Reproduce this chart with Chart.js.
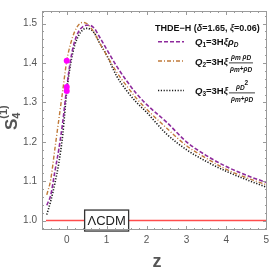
<!DOCTYPE html>
<html>
<head>
<meta charset="utf-8">
<script src="https://cdn.jsdelivr.net/npm/chart.js@4.4.0/dist/chart.umd.min.js"></script>
<style>
  html, body { margin: 0; padding: 0; background: #fff; }
  #wrap { width: 273px; height: 273px; position: relative; }
</style>
</head>
<body>
<div id="wrap"><canvas id="s4Chart" width="273" height="273"></canvas></div>
<script>
// redshift grid and the three S4 curves
const zValues = [-0.5, -0.4, -0.3, -0.2, -0.1, 0, 0.1, 0.2, 0.3, 0.4, 0.5, 0.6, 0.7, 0.8, 1.0, 1.25, 1.5, 1.75, 2, 2.5, 3, 3.5, 4, 4.5, 5];
const q1Values = [1.039, 1.065, 1.123, 1.18, 1.25, 1.337, 1.41, 1.455, 1.48, 1.492, 1.496, 1.495, 1.487, 1.47, 1.435, 1.392, 1.355, 1.322, 1.295, 1.25, 1.20, 1.165, 1.137, 1.115, 1.097];
const q2Values = [1.065, 1.105, 1.18, 1.255, 1.33, 1.405, 1.45, 1.48, 1.497, 1.503, 1.50, 1.49, 1.475, 1.455, 1.42, 1.377, 1.342, 1.31, 1.283, 1.235, 1.19, 1.158, 1.13, 1.109, 1.091];
const q3Values = [1.015, 1.05, 1.093, 1.145, 1.218, 1.328, 1.40, 1.445, 1.47, 1.484, 1.488, 1.485, 1.475, 1.455, 1.42, 1.367, 1.33, 1.30, 1.275, 1.22, 1.18, 1.15, 1.125, 1.104, 1.085];

// present-day points at z = 0
const todayZ = [0, 0, 0];
const todayS4 = [1.406, 1.339, 1.329];

// LCDM reference
const lcdmZ = [-0.52, 5];
const lcdmS4 = [1.0, 1.0];

const xTicks = [0, 1, 2, 3, 4, 5];
const yTicks = [1.0, 1.1, 1.2, 1.3, 1.4, 1.5];

const purple = '#8e2a9c';
const brown = '#c07a3a';
const dark = '#1a1a1a';
const frameGray = '#9a9a9a';
const labelGray = '#555';

function pts(xs, ys) {
    return xs.map((x, i) => ({ x: x, y: ys[i] }));
}

// draws a run of text pieces: [text, font, dy]
function drawRuns(ctx, x, y, runs) {
    runs.forEach(r => {
        ctx.font = r[1];
        ctx.fillText(r[0], x, y + (r[2] || 0));
        x += ctx.measureText(r[0]).width;
    });
    return x;
}

const framePlugin = {
    id: 'frame',
    afterDatasetsDraw(chart) {
        const ctx = chart.ctx;
        const xs = chart.scales.x, ys = chart.scales.y;
        // LCDM label box
        const cx = xs.getPixelForValue(1.0), cy = ys.getPixelForValue(1.0);
        ctx.save();
        ctx.fillStyle = '#fff';
        ctx.fillRect(cx - 22, cy - 10.5, 44, 21);
        ctx.strokeStyle = '#333';
        ctx.lineWidth = 1.3;
        ctx.strokeRect(cx - 22, cy - 10.5, 44, 21);
        ctx.fillStyle = '#222';
        ctx.font = '13px "Liberation Sans", Arial, sans-serif';
        ctx.textAlign = 'center';
        ctx.textBaseline = 'middle';
        ctx.fillText('\u039BCDM', cx, cy + 0.5);
        ctx.restore();
    },
    afterDraw(chart) {
        const ctx = chart.ctx;
        const a = chart.chartArea;
        const xs = chart.scales.x, ys = chart.scales.y;
        ctx.save();
        ctx.strokeStyle = frameGray;
        ctx.lineWidth = 1;
        ctx.strokeRect(a.left + 0.5, a.top + 0.5, a.right - a.left - 1, a.bottom - a.top - 1);

        // inward ticks on all four sides
        ctx.beginPath();
        for (let i = -3; i <= 25; i++) {
            const v = i * 0.2;
            const px = Math.round(xs.getPixelForValue(v)) + 0.5;
            if (px < a.left || px > a.right) continue;
            const len = (i % 5 === 0) ? 4 : 2;
            ctx.moveTo(px, a.bottom); ctx.lineTo(px, a.bottom - len);
            ctx.moveTo(px, a.top); ctx.lineTo(px, a.top + len);
        }
        for (let i = 49; i <= 76; i++) {
            const v = i * 0.02;
            const py = Math.round(ys.getPixelForValue(v)) + 0.5;
            if (py < a.top || py > a.bottom) continue;
            const len = (i % 5 === 0) ? 4 : 2;
            ctx.moveTo(a.left, py); ctx.lineTo(a.left + len, py);
            ctx.moveTo(a.right, py); ctx.lineTo(a.right - len, py);
        }
        ctx.stroke();

        // axis titles
        ctx.fillStyle = labelGray;
        ctx.textAlign = 'center';
        ctx.textBaseline = 'middle';
        ctx.font = 'bold 18px "Liberation Sans", Arial, sans-serif';
        ctx.fillText('z', 157, 262);
        ctx.save();
        ctx.translate(12, 112);
        ctx.rotate(-Math.PI / 2);
        ctx.textAlign = 'left';
        const sw = 30;
        let xx = drawRuns(ctx, -sw / 2 - 3, 0, [['S', 'bold 17px "Liberation Sans", Arial, sans-serif', 0]]);
        ctx.font = 'bold 11px "Liberation Sans", Arial, sans-serif';
        ctx.fillText('4', xx, 5);
        ctx.fillText('(1)', xx, -8);
        ctx.restore();

        // legend
        const f = '"Liberation Sans", Arial, sans-serif';
        ctx.fillStyle = '#111';
        ctx.textAlign = 'left';
        ctx.textBaseline = 'middle';
        drawRuns(ctx, 155, 29, [
            ['THDE\u2212H (', 'bold 9px ' + f], ['\u03B4', 'bold italic 9px ' + f],
            ['=1.65, ', 'bold 9px ' + f], ['\u03BE', 'bold italic 9px ' + f], ['=0.06)', 'bold 9px ' + f]
        ]);

        const samples = [
            { y: 41.7, color: purple, dash: [4, 2], w: 1.6 },
            { y: 61, color: brown, dash: [4, 2, 1, 2], w: 1.4 },
            { y: 90.5, color: dark, dash: [1.2, 1.6], w: 1.5 }
        ];
        samples.forEach(s => {
            ctx.beginPath();
            ctx.setLineDash(s.dash);
            ctx.strokeStyle = s.color;
            ctx.lineWidth = s.w;
            ctx.moveTo(158, s.y); ctx.lineTo(184, s.y);
            ctx.stroke();
        });
        ctx.setLineDash([]);

        const big = 'bold 9.5px ' + f, bigI = 'bold italic 9.5px ' + f;
        const sm = 'bold 6.5px ' + f, smI = 'bold italic 6.5px ' + f;
        // Q1
        drawRuns(ctx, 195, 42, [['Q', bigI], ['1', sm, 3], ['=3H', big], ['\u03BE', bigI], ['\u03C1', bigI], ['D', smI, 3]]);
        // Q2
        let qx = drawRuns(ctx, 195, 62, [['Q', bigI], ['2', sm, 3], ['=3H', big], ['\u03BE', bigI]]);
        qx += 1;
        drawRuns(ctx, qx + 2, 57, [['\u03C1', smI], ['m', smI, 1.5], [' \u03C1', smI], ['D', smI, 1.5]]);
        ctx.fillRect(qx, 62.5, 24, 0.8);
        drawRuns(ctx, qx + 1, 69, [['\u03C1', smI], ['m', smI, 1.5], ['+\u03C1', smI], ['D', smI, 1.5]]);
        // Q3
        qx = drawRuns(ctx, 195, 91, [['Q', bigI], ['3', sm, 3], ['=3H', big], ['\u03BE', bigI]]);
        qx += 1;
        drawRuns(ctx, qx + 7, 87, [['\u03C1', smI], ['D', smI, 1.5], ['2', sm, -3.5]]);
        ctx.fillRect(qx, 92.5, 26, 0.8);
        drawRuns(ctx, qx + 2, 99, [['\u03C1', smI], ['m', smI, 1.5], ['+\u03C1', smI], ['D', smI, 1.5]]);
        ctx.restore();
    }
};

const ctx = document.getElementById('s4Chart').getContext('2d');
const s4Chart = new Chart(ctx, {
    type: 'line',
    data: {
        datasets: [
            {
                label: 'z = 0',
                data: pts(todayZ, todayS4),
                showLine: false,
                pointRadius: 3,
                pointBackgroundColor: '#ff00ff',
                pointBorderWidth: 0
            },
            {
                label: 'Q1',
                data: pts(zValues, q1Values),
                borderColor: purple,
                borderWidth: 1.6,
                borderDash: [4, 2],
                pointRadius: 0,
                cubicInterpolationMode: 'monotone'
            },
            {
                label: 'Q2',
                data: pts(zValues, q2Values),
                borderColor: brown,
                borderWidth: 1.4,
                borderDash: [4, 2, 1, 2],
                pointRadius: 0,
                cubicInterpolationMode: 'monotone'
            },
            {
                label: 'Q3',
                data: pts(zValues, q3Values),
                borderColor: dark,
                borderWidth: 1.6,
                borderDash: [1.2, 1.6],
                pointRadius: 0,
                cubicInterpolationMode: 'monotone'
            },
            {
                label: 'LCDM',
                data: pts(lcdmZ, lcdmS4),
                borderColor: '#ff4c4c',
                borderWidth: 1.4,
                pointRadius: 0
            }
        ]
    },
    options: {
        responsive: false,
        animation: false,
        layout: { padding: { top: 0, right: 5, left: 0, bottom: 0 } },
        plugins: {
            legend: { display: false },
            tooltip: { enabled: false }
        },
        scales: {
            x: {
                type: 'linear',
                min: -0.62,
                max: 5.02,
                afterBuildTicks: s => { s.ticks = xTicks.map(v => ({ value: v })); },
                afterFit: s => { s.height = 43; },
                grid: { display: false, drawTicks: false },
                border: { display: false },
                ticks: {
                    padding: 4,
                    color: labelGray,
                    font: { family: '"Liberation Sans", Arial, sans-serif', size: 10 },
                    callback: v => String(v)
                }
            },
            y: {
                type: 'linear',
                min: 0.976,
                max: 1.532,
                afterBuildTicks: s => { s.ticks = yTicks.map(v => ({ value: v })); },
                afterFit: s => { s.width = 42; },
                grid: { display: false, drawTicks: false },
                border: { display: false },
                ticks: {
                    padding: 5,
                    color: labelGray,
                    font: { family: '"Liberation Sans", Arial, sans-serif', size: 10 },
                    callback: v => v.toFixed(1)
                }
            }
        }
    },
    plugins: [framePlugin]
});
</script>
</body>
</html>
